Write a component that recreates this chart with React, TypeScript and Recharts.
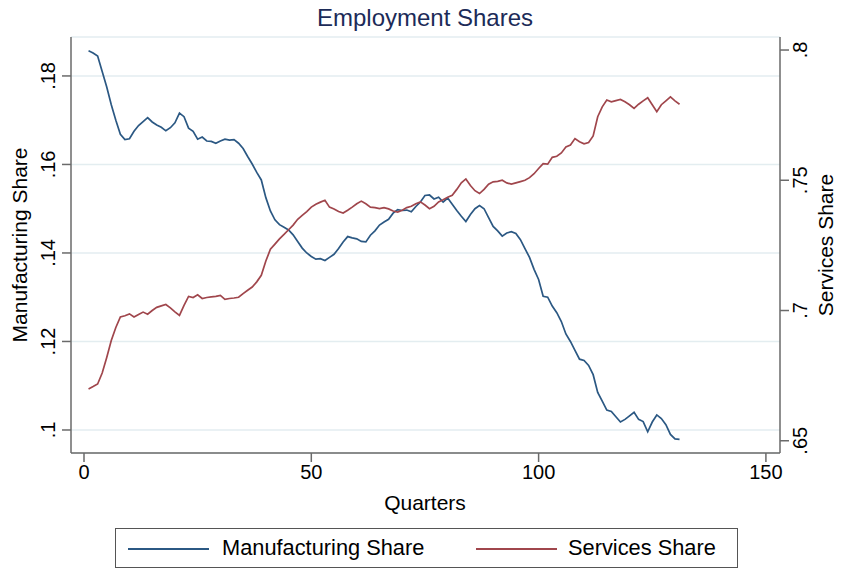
import React from "react";
import { LineChart, Line, XAxis, YAxis, CartesianGrid, Legend, Label } from "recharts";

const quarters: number[] = Array.from({ length: 131 }, (_, i) => i + 1);

const manufacturingShare: number[] = [
  0.1857, 0.1852, 0.1845, 0.181, 0.1775, 0.1735, 0.170, 0.1668, 0.1656, 0.1658,
  0.1675, 0.1688, 0.1697, 0.1706, 0.1696, 0.1689, 0.1684, 0.1676, 0.1683, 0.1694,
  0.1716, 0.1708, 0.1682, 0.1675, 0.1657, 0.1662, 0.1653, 0.1652, 0.1648, 0.1653,
  0.1657, 0.1655, 0.1656, 0.1648, 0.1636, 0.1618, 0.1601, 0.1582, 0.1565, 0.1525,
  0.1495, 0.1475, 0.1464, 0.1458, 0.1452, 0.1441, 0.1426, 0.1411, 0.1400, 0.1392,
  0.1386, 0.1387, 0.1383, 0.1390, 0.1397, 0.1410, 0.1425, 0.1437, 0.1434, 0.1432,
  0.1426, 0.1425, 0.1440, 0.1450, 0.1463, 0.1470, 0.1476, 0.1490, 0.1498, 0.1496,
  0.1497, 0.1493, 0.1505, 0.1515, 0.1530, 0.1531, 0.1522, 0.1526, 0.1515, 0.1524,
  0.1510, 0.1496, 0.1483, 0.1471, 0.1487, 0.1500, 0.1507, 0.1500, 0.1480, 0.1460,
  0.1450, 0.1438, 0.1445, 0.1448, 0.1444, 0.1430, 0.1410, 0.1390, 0.1363, 0.1340,
  0.1302, 0.1300, 0.1280, 0.1265, 0.1245, 0.1217, 0.1200, 0.1180, 0.1160, 0.1157,
  0.1146, 0.1125, 0.1085, 0.1065, 0.1045, 0.1042, 0.1030, 0.1018, 0.1024, 0.1032,
  0.1040, 0.1024, 0.1019, 0.0996, 0.1018, 0.1034, 0.1026, 0.1012, 0.0990, 0.0980,
  0.0979,
];

const servicesShare: number[] = [
  0.6699, 0.6708, 0.6718, 0.6760, 0.6820, 0.6885, 0.6935, 0.6975, 0.6980, 0.6987,
  0.6975, 0.6985, 0.6994, 0.6986, 0.7000, 0.7012, 0.7018, 0.7023, 0.7010, 0.6995,
  0.6981, 0.7020, 0.7054, 0.7050, 0.7060, 0.7046, 0.7050, 0.7052, 0.7054, 0.7058,
  0.7043, 0.7046, 0.7048, 0.7051, 0.7065, 0.7078, 0.7090, 0.7110, 0.7135, 0.7190,
  0.7235, 0.7255, 0.7275, 0.7292, 0.7310, 0.7328, 0.7350, 0.7365, 0.7380, 0.7397,
  0.7408, 0.7416, 0.7423, 0.7397, 0.7390, 0.7380, 0.7374, 0.7385, 0.7397, 0.7410,
  0.7420, 0.7410, 0.7397, 0.7395, 0.7391, 0.7395, 0.7390, 0.7382, 0.7378, 0.7385,
  0.7395, 0.7400, 0.7410, 0.7417, 0.7405, 0.7391, 0.7400, 0.7417, 0.7425, 0.7435,
  0.7442, 0.7465, 0.7490, 0.7505, 0.7480, 0.7460, 0.7449, 0.7465, 0.7485, 0.7494,
  0.7496, 0.7500, 0.7490, 0.7485, 0.7490, 0.7495, 0.7500, 0.7510, 0.7525, 0.7545,
  0.7564, 0.7562, 0.7588, 0.7592, 0.7605, 0.7628, 0.7635, 0.7660, 0.7648, 0.7640,
  0.7645, 0.7670, 0.7744, 0.7782, 0.7808, 0.7801, 0.7806, 0.7810, 0.7801, 0.7790,
  0.7776, 0.7792, 0.7805, 0.7817, 0.7790, 0.7763, 0.7790, 0.7805, 0.7820, 0.7805,
  0.7792,
];

const xTicks: number[] = [0, 50, 100, 150];
const leftTicks: number[] = [0.1, 0.12, 0.14, 0.16, 0.18];
const rightTicks: number[] = [0.65, 0.7, 0.75, 0.8];

const data = quarters.map((q, i) => ({
  q,
  manufacturing: manufacturingShare[i],
  services: servicesShare[i],
}));

const FONT = "'Liberation Sans', Arial, Helvetica, sans-serif";
const BLUE = "#2b5883";
const RED = "#a0464c";
const AXIS = "#6a6a6a";

const fmt = (v: number) => {
  const s = String(Number(v.toFixed(4)));
  return s.startsWith("0.") ? s.slice(1) : s;
};

const LeftTick = (props: any) => {
  const { y, payload } = props;
  return (
    <text
      x={55}
      y={y}
      transform={`rotate(-90 55 ${y})`}
      textAnchor="middle"
      fontSize={20}
      fontFamily={FONT}
      fill="#000"
    >
      {fmt(payload.value)}
    </text>
  );
};

const RightTick = (props: any) => {
  const { y, payload } = props;
  return (
    <text
      x={807}
      y={y}
      transform={`rotate(-90 807 ${y})`}
      textAnchor="middle"
      fontSize={20}
      fontFamily={FONT}
      fill="#000"
    >
      {fmt(payload.value)}
    </text>
  );
};

const XTick = (props: any) => {
  const { x, payload } = props;
  return (
    <text x={x} y={479} textAnchor="middle" fontSize={20} fontFamily={FONT} fill="#000">
      {payload.value}
    </text>
  );
};

const LegendBox = () => (
  <div
    style={{
      position: "relative",
      width: 623,
      height: 40,
      border: "1.5px solid #555",
      boxSizing: "border-box",
      fontFamily: FONT,
      fontSize: 21.8,
      color: "#000",
      background: "#fff",
    }}
  >
    <div style={{ position: "absolute", left: 12, top: 19, width: 81, height: 0, borderTop: `2px solid ${BLUE}` }} />
    <div style={{ position: "absolute", left: 106, top: 7, whiteSpace: "nowrap", lineHeight: "24px" }}>
      Manufacturing Share
    </div>
    <div style={{ position: "absolute", left: 360, top: 19, width: 81, height: 0, borderTop: `2px solid ${RED}` }} />
    <div style={{ position: "absolute", left: 452, top: 7, whiteSpace: "nowrap", lineHeight: "24px" }}>
      Services Share
    </div>
  </div>
);

export default function App() {
  return (
    <div style={{ position: "absolute", left: 0, top: 0, width: 841, height: 569, background: "#fff" }}>
      <div
        style={{
          position: "absolute",
          left: 0,
          top: 4,
          width: 850,
          textAlign: "center",
          fontFamily: FONT,
          fontSize: 24,
          color: "#1c2b58",
          lineHeight: "28px",
        }}
      >
        Employment Shares
      </div>
      <LineChart
        width={841}
        height={569}
        data={data}
        margin={{ top: 37, right: 0, bottom: 56, left: 0 }}
        style={{ position: "absolute", left: 0, top: 0 }}
      >
        <CartesianGrid yAxisId="left" vertical={false} stroke="#e3edf0" strokeWidth={1.5} />
        <XAxis
          dataKey="q"
          type="number"
          domain={[-2.86, 153.1]}
          allowDataOverflow
          ticks={xTicks}
          height={60}
          tickSize={9}
          tick={<XTick />}
          axisLine={{ stroke: AXIS, strokeWidth: 1.5 }}
          tickLine={{ stroke: AXIS, strokeWidth: 1.5 }}
        >
          <Label
            content={() => (
              <text x={425} y={510} textAnchor="middle" fontSize={21} fontFamily={FONT} fill="#000">
                Quarters
              </text>
            )}
          />
        </XAxis>
        <YAxis
          yAxisId="left"
          orientation="left"
          type="number"
          domain={[0.0948, 0.1888]}
          allowDataOverflow
          ticks={leftTicks}
          width={71}
          tickSize={9}
          tick={<LeftTick />}
          axisLine={{ stroke: AXIS, strokeWidth: 1.5 }}
          tickLine={{ stroke: AXIS, strokeWidth: 1.5 }}
        >
          <Label
            content={() => (
              <text
                x={27}
                y={245}
                transform="rotate(-90 27 245)"
                textAnchor="middle"
                fontSize={21}
                fontFamily={FONT}
                fill="#000"
              >
                Manufacturing Share
              </text>
            )}
          />
        </YAxis>
        <YAxis
          yAxisId="right"
          orientation="right"
          type="number"
          domain={[0.6453, 0.805]}
          allowDataOverflow
          ticks={rightTicks}
          width={61}
          tickSize={9}
          tick={<RightTick />}
          axisLine={{ stroke: AXIS, strokeWidth: 1.5 }}
          tickLine={{ stroke: AXIS, strokeWidth: 1.5 }}
        >
          <Label
            content={() => (
              <text
                x={833}
                y={245}
                transform="rotate(-90 833 245)"
                textAnchor="middle"
                fontSize={21}
                fontFamily={FONT}
                fill="#000"
              >
                Services Share
              </text>
            )}
          />
        </YAxis>
        <Legend
          layout="horizontal"
          verticalAlign="middle"
          align="center"
          content={<LegendBox />}
          wrapperStyle={{ left: 115, top: 528, width: 623, height: 40 }}
        />
        <Line
          yAxisId="left"
          dataKey="manufacturing"
          name="Manufacturing Share"
          type="linear"
          stroke={BLUE}
          strokeWidth={1.7}
          dot={false}
          isAnimationActive={false}
        />
        <Line
          yAxisId="right"
          dataKey="services"
          name="Services Share"
          type="linear"
          stroke={RED}
          strokeWidth={1.7}
          dot={false}
          isAnimationActive={false}
        />
      </LineChart>
    </div>
  );
}
